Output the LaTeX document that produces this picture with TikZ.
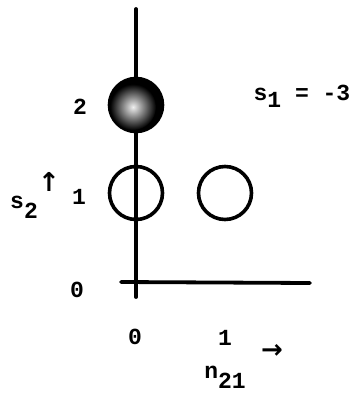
\documentclass[tikz,border=0pt]{standalone}
\usepackage{fontspec}
\setmainfont{Liberation Mono}
\newfontfamily\symfont{DejaVu Sans}
\begin{document}
\begin{tikzpicture}[x=1pt,y=-1pt,
  lbl/.style={font=\fontsize{23}{25}\selectfont\bfseries, inner sep=0pt},
  arr/.style={font=\symfont\bfseries\fontsize{26}{28}\selectfont, inner sep=0pt},
  axis/.style={line width=3.8pt, line cap=round},
  state/.style={circle, draw, line width=3.6pt, minimum size=53pt, inner sep=0pt},
  fullstate/.style={state, fill=black}]
\useasboundingbox (0,0) rectangle (359,397);
% axes
\coordinate (vtop) at (136,9);
\coordinate (vbot) at (136,297);
\coordinate (hl) at (121,282);
\coordinate (hr) at (310,283);
\draw[axis] (vtop) -- (vbot);
\draw[axis] (hl) -- (hr);
% states
\node[fullstate] (s20) at (136,105) {};
\shade[inner color=gray!12, outer color=black] ([shift={(-3,2)}]s20.center) circle[radius=23pt];
\node[state] (s10) at (136,193) {};
\node[state] (s11) at (225,193) {};
% tick labels
\node[lbl] (y2) at (80,107) {2};
\node[lbl] (y1) at (79,197) {1};
\node[lbl] (y0) at (77,290) {0};
\node[lbl] (x0) at (135,337) {0};
\node[lbl] (x1) at (225,338) {1};
% axis names
\node[lbl] (s2) at (24,207) {s\raisebox{-0.8ex}{2}};
\node[arr] (uparr) at (49,182) {↑};
\node[lbl] (n21) at (225,377) {n\raisebox{-0.8ex}{21}};
\node[arr] (rarr) at (272,351) {→};
\node[lbl] (s1) at (302,96) {s\raisebox{-0.6ex}{1} = -3};
\end{tikzpicture}
\end{document}
